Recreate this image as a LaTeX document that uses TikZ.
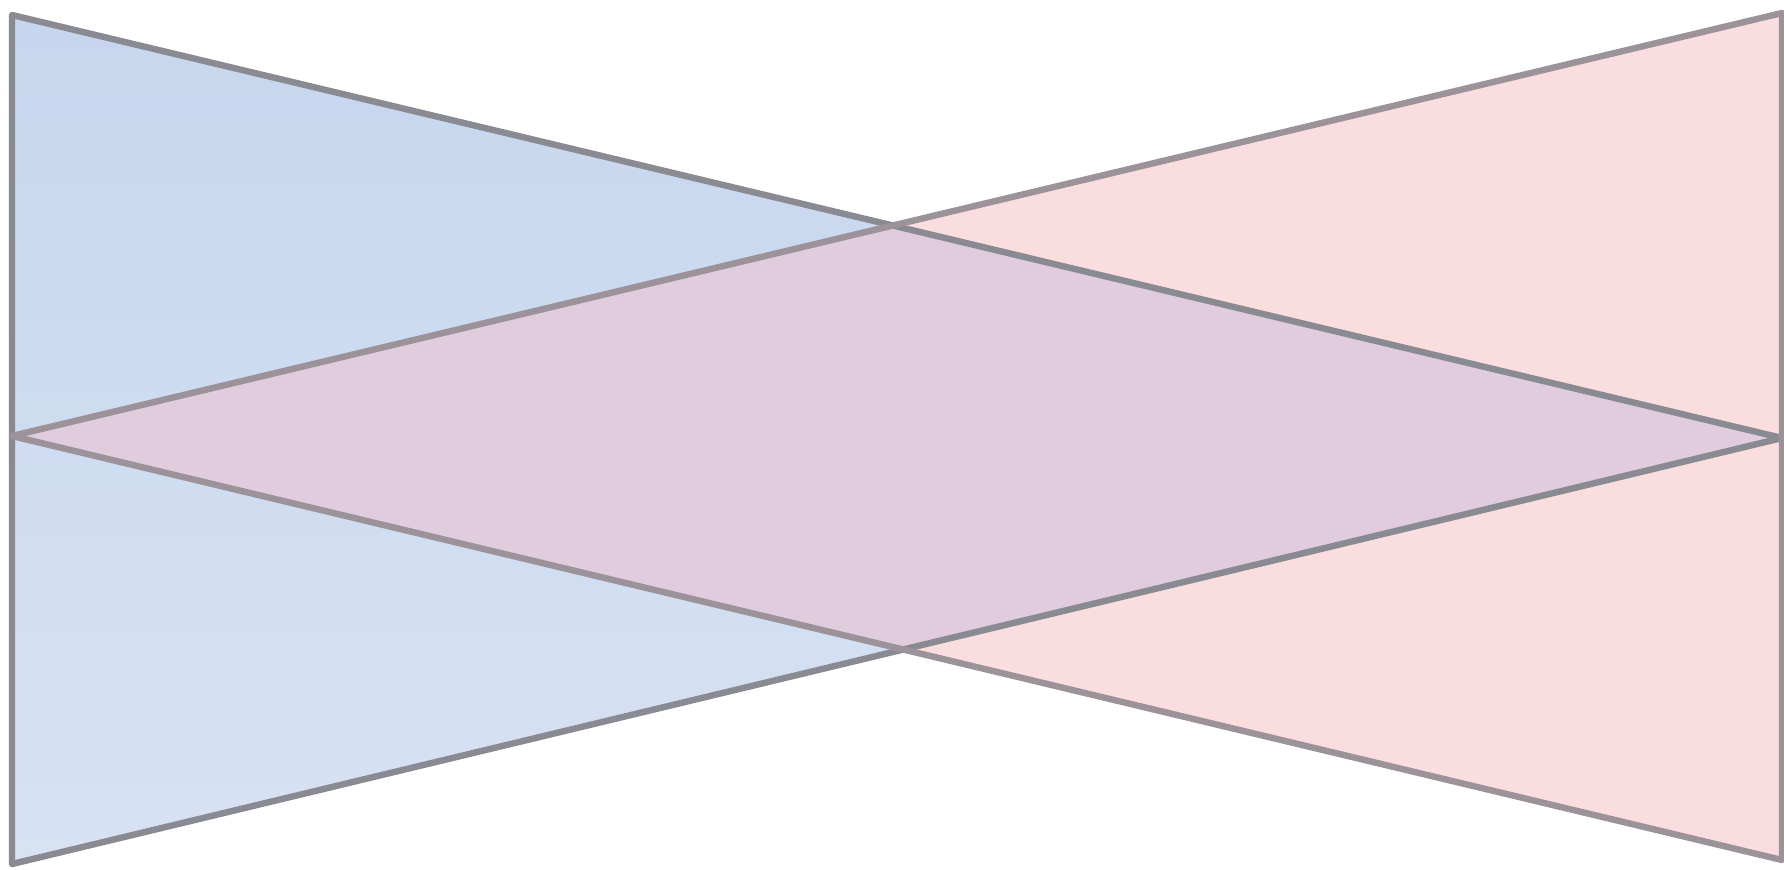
\documentclass[tikz,border=0pt]{standalone}
\begin{document}
\begin{tikzpicture}[x=0.5pt,y=-0.5pt]
\definecolor{lblue}{HTML}{C6D6EE}
\definecolor{lpink}{HTML}{FADDDE}
\definecolor{lmix}{HTML}{E0CCDC}
\definecolor{edgec}{HTML}{8A8A92}
\tikzset{edge/.style={draw=edgec, line width=3.2pt, line join=round}}
\useasboundingbox (0,0) rectangle (1784,869);
\coordinate (LT) at (12,15);
\coordinate (LB) at (12,864);
\coordinate (LA) at (1782,438);
\coordinate (RT) at (1782,13);
\coordinate (RB) at (1782,860);
\coordinate (RA) at (12,436);
\shade[top color=lblue, bottom color=lblue!70!white] (LT) -- (LB) -- (LA) -- cycle;
\fill[lpink] (RT) -- (RB) -- (RA) -- cycle;
\begin{scope}
\clip (LT) -- (LB) -- (LA) -- cycle;
\fill[lmix] (RT) -- (RB) -- (RA) -- cycle;
\end{scope}
\draw[edge] (LT) -- (LB) -- (LA) -- cycle;
\draw[edge, draw=edgec!85!pink] (RT) -- (RB) -- (RA) -- cycle;
\end{tikzpicture}
\end{document}
